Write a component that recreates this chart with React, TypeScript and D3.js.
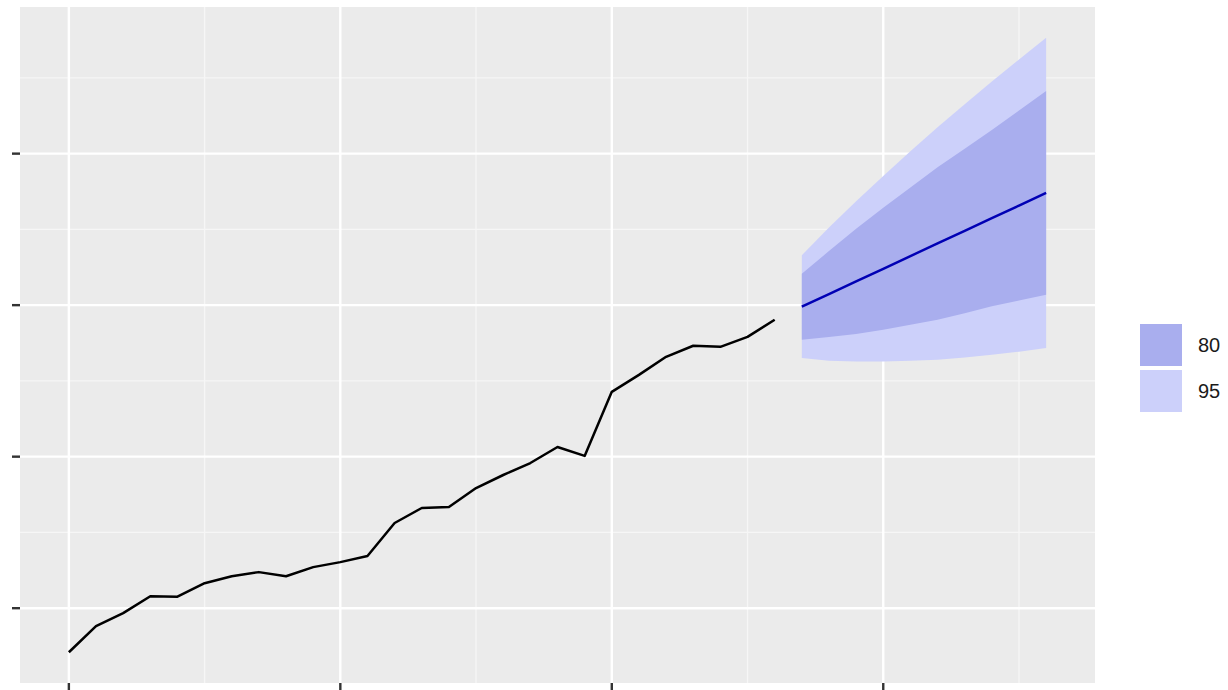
import { useEffect, useRef } from 'react';
import * as d3 from 'd3';

// observed series (one value per year)
const years = d3.range(1990, 2017);
const observed = [
  7.09, 8.81, 9.67, 10.79, 10.76, 11.65, 12.11, 12.38, 12.11, 12.71,
  13.04, 13.44, 15.62, 16.61, 16.68, 17.93, 18.79, 19.58, 20.64, 20.05,
  24.28, 25.4, 26.59, 27.32, 27.25, 27.91, 29.04,
];

// forecast
const fcYears = d3.range(2017, 2027);
const fcMean = [29.9, 30.73, 31.57, 32.4, 33.24, 34.07, 34.9, 35.74, 36.57, 37.41];
const lo80 = [27.72, 27.89, 28.09, 28.37, 28.71, 29.04, 29.47, 29.92, 30.3, 30.69];
const hi80 = [32.08, 33.57, 35.05, 36.43, 37.77, 39.1, 40.33, 41.56, 42.84, 44.13];
const lo95 = [26.51, 26.33, 26.28, 26.28, 26.33, 26.4, 26.54, 26.72, 26.93, 27.17];
const hi95 = [33.29, 35.13, 36.86, 38.52, 40.15, 41.74, 43.26, 44.76, 46.21, 47.65];

const xMajor = [1990, 2000, 2010, 2020];
const xMinor = [1995, 2005, 2015, 2025];
const yMajor = [10, 20, 30, 40];
const yMinor = [15, 25, 35, 45];

const levels = ['80', '95'];
const levelColors = ['#a9aeee', '#ccd0fa'];

const App = () => {
  const svgRef = useRef<SVGSVGElement>(null);

  useEffect(() => {
    const svg = d3.select(svgRef.current);
    svg.selectAll('*').remove();

    const width = 1228;
    const height = 690;
    const panel = { left: 20, right: 1095, top: 7, bottom: 683 };

    // ggplot style 5% expansion
    const allY = [...observed, ...lo95, ...hi95];
    const yMin = d3.min(allY)!;
    const yMax = d3.max(allY)!;
    const yPad = (yMax - yMin) * 0.05;
    const xPad = (2026 - 1990) * 0.05;

    const x = d3
      .scaleLinear()
      .domain([1990 - xPad, 2026 + xPad])
      .range([panel.left, panel.right]);
    const y = d3
      .scaleLinear()
      .domain([yMin - yPad, yMax + yPad])
      .range([panel.bottom, panel.top]);

    svg.attr('width', width).attr('height', height);

    // panel background
    svg
      .append('rect')
      .attr('x', panel.left)
      .attr('y', panel.top)
      .attr('width', panel.right - panel.left)
      .attr('height', panel.bottom - panel.top)
      .attr('fill', '#ebebeb');

    const grid = svg.append('g');

    // minor grid
    grid
      .selectAll('.ymin')
      .data(yMinor)
      .enter()
      .append('line')
      .attr('x1', panel.left)
      .attr('x2', panel.right)
      .attr('y1', d => y(d))
      .attr('y2', d => y(d))
      .attr('stroke', '#f6f6f6')
      .attr('stroke-width', 1.3);
    grid
      .selectAll('.xmin')
      .data(xMinor)
      .enter()
      .append('line')
      .attr('y1', panel.top)
      .attr('y2', panel.bottom)
      .attr('x1', d => x(d))
      .attr('x2', d => x(d))
      .attr('stroke', '#f6f6f6')
      .attr('stroke-width', 1.3);

    // major grid
    grid
      .selectAll('.ymaj')
      .data(yMajor)
      .enter()
      .append('line')
      .attr('x1', panel.left)
      .attr('x2', panel.right)
      .attr('y1', d => y(d))
      .attr('y2', d => y(d))
      .attr('stroke', '#ffffff')
      .attr('stroke-width', 2.4);
    grid
      .selectAll('.xmaj')
      .data(xMajor)
      .enter()
      .append('line')
      .attr('y1', panel.top)
      .attr('y2', panel.bottom)
      .attr('x1', d => x(d))
      .attr('x2', d => x(d))
      .attr('stroke', '#ffffff')
      .attr('stroke-width', 2.4);

    // axis ticks (labels are cut off in the reference)
    svg
      .selectAll('.ytick')
      .data(yMajor)
      .enter()
      .append('line')
      .attr('x1', panel.left - 8)
      .attr('x2', panel.left)
      .attr('y1', d => y(d))
      .attr('y2', d => y(d))
      .attr('stroke', '#333333')
      .attr('stroke-width', 2.4);
    svg
      .selectAll('.xtick')
      .data(xMajor)
      .enter()
      .append('line')
      .attr('y1', panel.bottom)
      .attr('y2', panel.bottom + 8)
      .attr('x1', d => x(d))
      .attr('x2', d => x(d))
      .attr('stroke', '#333333')
      .attr('stroke-width', 2.4);

    // forecast ribbons
    const area = d3
      .area<number>()
      .x((_, i) => x(fcYears[i]));

    svg
      .append('path')
      .datum(fcYears)
      .attr('d', area.y0((_, i) => y(lo95[i])).y1((_, i) => y(hi95[i])))
      .attr('fill', levelColors[1]);
    svg
      .append('path')
      .datum(fcYears)
      .attr('d', area.y0((_, i) => y(lo80[i])).y1((_, i) => y(hi80[i])))
      .attr('fill', levelColors[0]);

    const line = d3
      .line<number>()
      .x(d => x(d));

    svg
      .append('path')
      .datum(years)
      .attr('d', line.y((_, i) => y(observed[i])))
      .attr('fill', 'none')
      .attr('stroke', '#000000')
      .attr('stroke-width', 2.5)
      .attr('stroke-linejoin', 'round');

    svg
      .append('path')
      .datum(fcYears)
      .attr('d', line.y((_, i) => y(fcMean[i])))
      .attr('fill', 'none')
      .attr('stroke', '#0000b4')
      .attr('stroke-width', 2.5);

    // legend
    const legend = svg
      .selectAll('.legend')
      .data(levels)
      .enter()
      .append('g')
      .attr('transform', (_, i) => `translate(1140, ${324 + i * 46})`);

    legend
      .append('rect')
      .attr('width', 42)
      .attr('height', 42)
      .attr('fill', (_, i) => levelColors[i]);

    legend
      .append('text')
      .attr('x', 58)
      .attr('y', 21)
      .attr('dy', '0.35em')
      .style('font-family', '"Liberation Sans", Arial, sans-serif')
      .style('font-size', '20px')
      .style('fill', '#1a1a1a')
      .text(d => d);
  }, []);

  return (
    <div style={{ position: 'absolute', left: 0, top: 0 }}>
      <svg ref={svgRef} style={{ display: 'block' }}></svg>
    </div>
  );
};

export default App;
